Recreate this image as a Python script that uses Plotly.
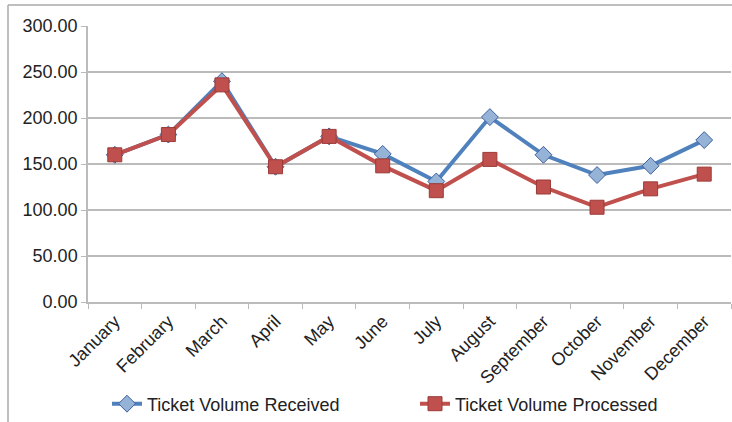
import plotly.graph_objects as go

months = ["January", "February", "March", "April", "May", "June", "July",
          "August", "September", "October", "November", "December"]
received = [160, 182, 240, 147, 180, 161, 131, 201, 160, 138, 148, 176]
processed = [160, 182, 236, 147, 180, 148, 121, 155, 125, 103, 123, 139]
y_ticks = [0, 50, 100, 150, 200, 250, 300]

W, H = 732, 422
ML, MR, MT, MB = 88, 1, 26, 120
PW, PH = W - ML - MR, H - MT - MB

def px_x(px):
    return (px - ML) / PW

def px_y(py):
    return (H - MB - py) / PH

fig = go.Figure()
fig.add_trace(go.Scatter(
    x=months, y=received, name="Ticket Volume Received", mode="lines+markers",
    line=dict(color="#4F81BD", width=4),
    marker=dict(symbol="diamond", size=13, color="#95B3D7",
                line=dict(color="#3F5F9F", width=1)),
))
fig.add_trace(go.Scatter(
    x=months, y=processed, name="Ticket Volume Processed", mode="lines+markers",
    line=dict(color="#C0504D", width=4),
    marker=dict(symbol="square", size=14, color="#C0504D",
                line=dict(color="#9B3B38", width=1)),
))

fig.update_layout(
    width=W, height=H,
    margin=dict(l=ML, r=MR, t=MT, b=MB, autoexpand=False),
    paper_bgcolor="white", plot_bgcolor="white",
    font=dict(family="Liberation Sans, Arial, sans-serif", size=18, color="#222222"),
    showlegend=True,
    legend=dict(orientation="h", x=px_x(107), xanchor="left",
                y=px_y(404), yanchor="middle",
                entrywidth=263, entrywidthmode="pixels",
                font=dict(size=18), bgcolor="rgba(0,0,0,0)"),
    xaxis=dict(
        type="category", range=[-0.5, 11.5], tickangle=-45,
        showline=True, linecolor="#BBBBBB", linewidth=1.5,
        ticks="outside", tickson="boundaries", ticklen=5, tickcolor="#BBBBBB",
        showgrid=False, tickfont=dict(size=18), fixedrange=True,
        automargin=False,
    ),
    yaxis=dict(
        range=[0, 300], tickvals=y_ticks, tickformat=".2f",
        showline=True, linecolor="#BBBBBB", linewidth=1.5,
        ticks="outside", ticklen=5, tickcolor="#BBBBBB",
        showgrid=True, gridcolor="#BBBBBB", gridwidth=1.5,
        zeroline=False, tickfont=dict(size=18), automargin=False,
    ),
    shapes=[
        dict(type="line", xref="paper", yref="paper",
             x0=px_x(8), x1=px_x(732), y0=px_y(5), y1=px_y(5),
             line=dict(color="#AAAAAA", width=1.5)),
        dict(type="line", xref="paper", yref="paper",
             x0=px_x(8), x1=px_x(8), y0=px_y(5), y1=px_y(422),
             line=dict(color="#AAAAAA", width=1.5)),
    ],
)

post = ("document.body.style.margin='0';document.body.style.overflow='hidden';"
        "Plotly.relayout('{plot_id}', {width: %d, height: %d});" % (W, H))
fig.write_html("out.html", post_script=post,
               config={"responsive": False, "displayModeBar": False})
